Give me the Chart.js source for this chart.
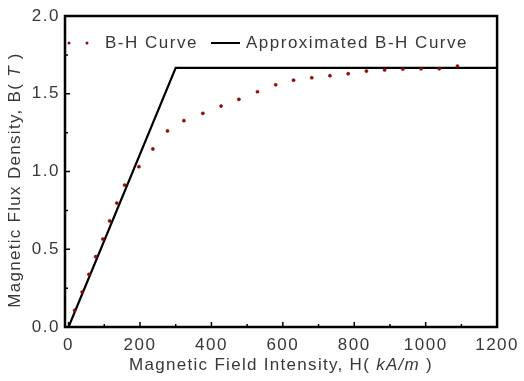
<!DOCTYPE html>
<html>
<head>
<meta charset="utf-8">
<script src="https://cdn.jsdelivr.net/npm/chart.js@4.4.0/dist/chart.umd.min.js"></script>
<style>
html,body{margin:0;padding:0;background:#fff;}
canvas{display:block;}
</style>
</head>
<body>
<canvas id="c" width="524" height="381"></canvas>
<script>
// Measured B-H curve (H in kA/m, B in T)
const bhH = [17, 38, 57, 76, 96, 115, 135, 157, 197, 236, 277, 323, 376, 427, 477, 529, 580, 630, 681, 732, 783, 834, 885, 936, 987, 1038, 1089];
const bhB = [0.107, 0.225, 0.339, 0.452, 0.566, 0.682, 0.797, 0.913, 1.031, 1.145, 1.261, 1.327, 1.374, 1.421, 1.464, 1.513, 1.558, 1.587, 1.603, 1.616, 1.629, 1.646, 1.653, 1.659, 1.661, 1.661, 1.678];
// Approximated (piecewise linear) B-H curve
const apH = [0, 300, 1200];
const apB = [0, 1.667, 1.667];
// Axis ticks
const xTicks = [0, 200, 400, 600, 800, 1000, 1200];
const yTicks = [0, 0.5, 1.0, 1.5, 2.0];
const seriesNames = ['B-H Curve', 'Approximated B-H Curve'];

const FONT = '"Liberation Sans", Arial, sans-serif';
const TXT = '#383838';
const MARK = '#8e0a0a';

const framePlugin = {
  id: 'frame',
  beforeDraw(chart) {
    chart.ctx.letterSpacing = '1.5px';
  },
  afterDatasetsDraw(chart) {
    const ctx = chart.ctx;
    const a = chart.chartArea;
    const xs = chart.scales.x, ys = chart.scales.y;
    ctx.save();
    ctx.strokeStyle = '#000';
    // frame
    ctx.lineWidth = 2.5;
    ctx.strokeRect(a.left, a.top, a.right - a.left, a.bottom - a.top);
    // ticks inward
    ctx.lineWidth = 1.5;
    ctx.beginPath();
    for (let i = 0; i < xTicks.length; i++) {
      const px = xs.getPixelForValue(xTicks[i]);
      ctx.moveTo(px, a.bottom); ctx.lineTo(px, a.bottom - 5);
      if (i < xTicks.length - 1) {
        const pm = xs.getPixelForValue((xTicks[i] + xTicks[i + 1]) / 2);
        ctx.moveTo(pm, a.bottom); ctx.lineTo(pm, a.bottom - 3);
      }
    }
    for (let i = 0; i < yTicks.length; i++) {
      const py = ys.getPixelForValue(yTicks[i]);
      ctx.moveTo(a.left, py); ctx.lineTo(a.left + 5, py);
      if (i < yTicks.length - 1) {
        const pm = ys.getPixelForValue((yTicks[i] + yTicks[i + 1]) / 2);
        ctx.moveTo(a.left, pm); ctx.lineTo(a.left + 3, pm);
      }
    }
    ctx.stroke();

    // legend
    ctx.letterSpacing = '1.5px';
    ctx.font = '17px ' + FONT;
    ctx.textBaseline = 'middle';
    ctx.textAlign = 'left';
    const ly = a.top + 27;
    ctx.fillStyle = MARK;
    [a.left + 4, a.left + 22].forEach(x => {
      ctx.beginPath(); ctx.arc(x, ly, 1.5, 0, Math.PI * 2); ctx.fill();
    });
    ctx.fillStyle = TXT;
    ctx.fillText(seriesNames[0], a.left + 40, ly);
    ctx.lineWidth = 2;
    ctx.beginPath(); ctx.moveTo(a.left + 146, ly); ctx.lineTo(a.left + 175, ly); ctx.stroke();
    ctx.fillText(seriesNames[1], a.left + 181, ly);

    // x axis title
    ctx.letterSpacing = '1.3px';
    const parts = [['Magnetic Field Intensity, H( ', false], ['kA/m', true], [' )', false]];
    const widths = parts.map(p => { ctx.font = (p[1] ? 'italic ' : '') + '17px ' + FONT; return ctx.measureText(p[0]).width; });
    const total = widths.reduce((s, w) => s + w, 0);
    let x0 = (a.left + a.right) / 2 - total / 2;
    ctx.textBaseline = 'alphabetic';
    parts.forEach((p, i) => {
      ctx.font = (p[1] ? 'italic ' : '') + '17px ' + FONT;
      ctx.fillText(p[0], x0, 370);
      x0 += widths[i];
    });

    // y axis title
    const yparts = [['Magnetic Flux Density, B( ', false], ['T', true], [' )', false]];
    const yw = yparts.map(p => { ctx.font = (p[1] ? 'italic ' : '') + '17px ' + FONT; return ctx.measureText(p[0]).width; });
    const ytot = yw.reduce((s, w) => s + w, 0);
    ctx.translate(20, 180);
    ctx.rotate(-Math.PI / 2);
    let y0 = -ytot / 2;
    yparts.forEach((p, i) => {
      ctx.font = (p[1] ? 'italic ' : '') + '17px ' + FONT;
      ctx.fillText(p[0], y0, 0);
      y0 += yw[i];
    });
    ctx.restore();
  }
};

new Chart(document.getElementById('c'), {
  type: 'scatter',
  data: {
    datasets: [
      {
        label: seriesNames[0],
        data: bhH.map((h, i) => ({ x: h, y: bhB[i] })),
        showLine: false,
        pointStyle: 'circle',
        pointRadius: 1.6,
        pointBackgroundColor: MARK,
        pointBorderColor: MARK,
        pointBorderWidth: 0.5
      },
      {
        label: seriesNames[1],
        data: apH.map((h, i) => ({ x: h, y: apB[i] })),
        showLine: true,
        borderColor: '#000',
        borderWidth: 2.2,
        pointRadius: 0,
        fill: false
      }
    ]
  },
  options: {
    responsive: false,
    animation: false,
    devicePixelRatio: 1,
    layout: { padding: { left: 0, top: 16, right: 22, bottom: 0 } },
    plugins: { legend: { display: false }, tooltip: { enabled: false } },
    scales: {
      x: {
        type: 'linear',
        min: -10,
        max: 1200,
        grid: { display: false, drawTicks: false },
        border: { display: false },
        afterBuildTicks: s => { s.ticks = xTicks.map(v => ({ value: v })); },
        afterFit: s => { s.height = 54; },
        ticks: {
          color: TXT,
          font: { family: FONT, size: 17 },
          padding: 8,
          maxRotation: 0,
          callback: v => String(v)
        }
      },
      y: {
        type: 'linear',
        min: 0,
        max: 2,
        grid: { display: false, drawTicks: false },
        border: { display: false },
        afterBuildTicks: s => { s.ticks = yTicks.map(v => ({ value: v })); },
        afterFit: s => { s.width = 65; },
        ticks: {
          color: TXT,
          font: { family: FONT, size: 17 },
          padding: 5,
          callback: v => v.toFixed(1)
        }
      }
    }
  },
  plugins: [framePlugin]
});
</script>
</body>
</html>
